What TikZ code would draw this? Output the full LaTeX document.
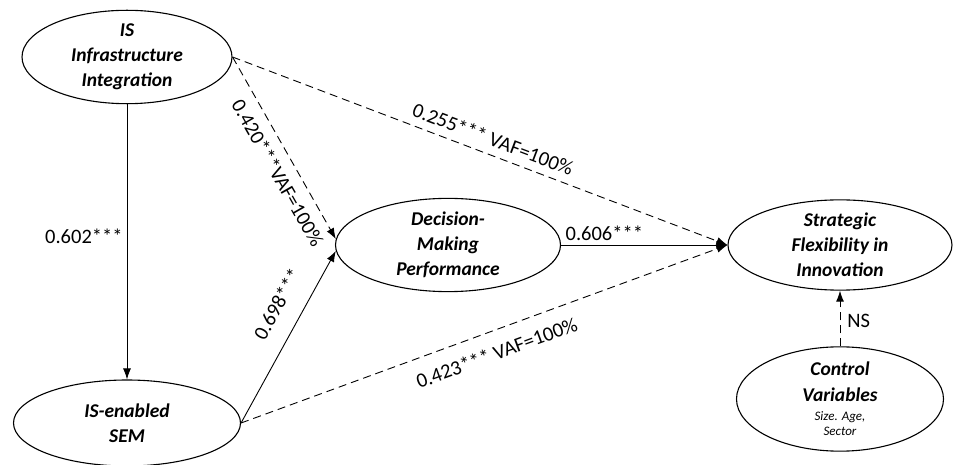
\documentclass[tikz,border=0pt]{standalone}
\usepackage{fontspec}
\setmainfont{Carlito}
\usetikzlibrary{shapes.geometric,arrows.meta}
\newcommand{\ctrlnote}{\mdseries\fontsize{13}{15}\selectfont}
\begin{document}
\begin{tikzpicture}[x=1pt, y=1pt, >={Latex[length=11pt,width=8pt]},
    construct/.style={ellipse, draw, line width=1.1pt, inner sep=0pt, align=center,
      font=\bfseries\itshape\fontsize{19.5}{25}\selectfont},
    link/.style={->, line width=0.9pt},
    mediated/.style={link, dash pattern=on 8pt off 5pt},
    coef/.style={font=\fontsize{20.5}{24}\selectfont, inner sep=4pt}]
    \useasboundingbox (0, 0) rectangle (954, -465);

    \node[construct, minimum width=210pt, minimum height=87pt] (infra) at (127, -57) {IS\\Infrastructure\\Integration};
    \node[construct, minimum width=227pt, minimum height=86pt] (sem) at (127, -423) {IS-enabled\\SEM};
    \node[construct, minimum width=225pt, minimum height=83pt] (decision) at (448, -245) {Decision-\\Making\\Performance};
    \node[construct, minimum width=224pt, minimum height=83pt] (strategic) at (840, -245) {Strategic\\Flexibility in\\Innovation};
    \node[construct, minimum width=207pt, minimum height=86pt] (control) at (840, -399)
      {Control\\[1pt]Variables\\[-6pt]\ctrlnote Size. Age,\\[-10pt]\ctrlnote Sector};

    \draw[link] (infra.south) -- (sem.north) node[coef, pos=0.48, left] {0.602***};
    \draw[mediated] (infra.east) -- (decision.177) node[coef, pos=0.59, below=6pt, sloped] {0.420***VAF=100\%};
    \draw[mediated] (infra.east) -- (strategic.west) node[coef, pos=0.515, above=4pt, sloped] {0.255*** VAF=100\%};
    \draw[link] (sem.east) -- (decision.183) node[coef, pos=0.62, above=14pt, sloped] {0.698***};
    \draw[mediated] (sem.east) -- (strategic.west) node[coef, pos=0.51, below=10pt, sloped] {0.423*** VAF=100\%};
    \draw[link] (decision.east) -- (strategic.west) node[coef, pos=0.26, above] {0.606***};
    \draw[mediated] (control.north) -- (strategic.south) node[coef, pos=0.45, right=3pt] {NS};
  \end{tikzpicture}
\end{document}
